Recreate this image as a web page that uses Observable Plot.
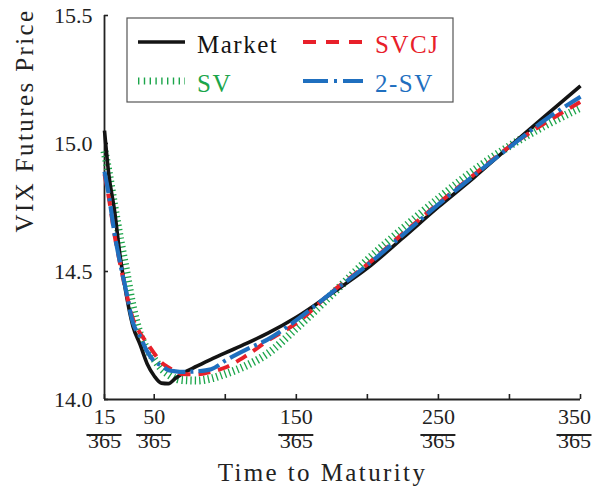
<!DOCTYPE html>
<html><head><meta charset="utf-8">
<script src="https://cdn.jsdelivr.net/npm/d3@7"></script>
<script src="https://cdn.jsdelivr.net/npm/@observablehq/plot@0.6"></script>
<style>html,body{margin:0;padding:0;background:#fff;} #chart{width:593px;height:497px;}</style>
</head><body><div id="chart"></div>
<script>
// Time to maturity in days (x = days/365)
const days   = [15, 18, 22, 26, 30, 35, 40, 45, 50, 55, 60, 65, 70, 80, 90, 100, 115, 130, 150, 175, 200, 225, 250, 275, 300, 325, 350];
const market = [15.05, 14.88, 14.74, 14.56, 14.42, 14.286, 14.215, 14.14, 14.092, 14.064, 14.062, 14.083, 14.102, 14.13, 14.157, 14.182, 14.219, 14.259, 14.321, 14.415, 14.513, 14.631, 14.752, 14.867, 14.988, 15.107, 15.225];
const sv     = [14.97, 14.885, 14.752, 14.627, 14.51, 14.36, 14.255, 14.196, 14.157, 14.121, 14.098, 14.082, 14.076, 14.074, 14.082, 14.10, 14.133, 14.18, 14.278, 14.41, 14.545, 14.668, 14.785, 14.895, 14.99, 15.07, 15.14];
const svcj   = [14.88, 14.79, 14.645, 14.53, 14.425, 14.315, 14.26, 14.22, 14.18, 14.145, 14.125, 14.11, 14.10, 14.098, 14.108, 14.125, 14.172, 14.23, 14.298, 14.42, 14.528, 14.648, 14.766, 14.878, 14.988, 15.08, 15.163];
const twoSv  = [14.89, 14.80, 14.65, 14.533, 14.43, 14.30, 14.247, 14.188, 14.149, 14.133, 14.114, 14.11, 14.108, 14.11, 14.118, 14.152, 14.196, 14.235, 14.31, 14.418, 14.525, 14.643, 14.762, 14.875, 14.985, 15.092, 15.183];

const seriesNames = ["Market", "SVCJ", "SV", "2-SV"];
const xLabelTicks = [15, 50, 150, 250, 350];
const xAllTicks   = [15, 50, 100, 150, 200, 250, 300, 350];
const denominator = "365";
const yTicks      = [14.0, 14.5, 15.0, 15.5];
const xTitle = "Time to Maturity";
const yTitle = "VIX Futures Price";

const FONT = "'Liberation Serif', serif";
const styles = {
  "Market": {color: "#141414", width: 3.6, dash: null},
  "SVCJ":   {color: "#e8202a", width: 4,   dash: "12,8"},
  "SV":     {color: "#1ba54a", width: 8,   dash: "1.3,3.1"},
  "2-SV":   {color: "#1f6fbf", width: 4.2, dash: "22,5,3,5"}
};
const valuesBy = {"Market": market, "SVCJ": svcj, "SV": sv, "2-SV": twoSv};
const drawOrder = ["SV", "Market", "SVCJ", "2-SV"];

const rows = [];
for (const name of seriesNames) days.forEach((d, i) => rows.push({series: name, day: d, value: valuesBy[name][i]}));

const W = 593, H = 497, ML = 104, MR = 13, MT = 15, MB = 98;
const xDomain = [15, 350], yDomain = [14, 15.5];
// pixel <-> data unit ratios, used only to size decorations (ticks, fraction bars)
const pxPerDay = (W - ML - MR) / (xDomain[1] - xDomain[0]);
const pxPerUnit = (H - MT - MB) / (yDomain[1] - yDomain[0]);
const barHalf = 17.5 / pxPerDay;

const lineMarks = drawOrder.map(name => Plot.line(rows.filter(r => r.series === name), {
  x: "day", y: "value", stroke: styles[name].color, strokeWidth: styles[name].width,
  strokeDasharray: styles[name].dash, curve: "monotone-x", strokeLinecap: "butt"
}));

const innerTicks = xLabelTicks.slice(0, -1);
const lastTick = xLabelTicks.slice(-1);
const lastShift = -6;

const plot = Plot.plot({
  width: W, height: H,
  marginLeft: ML, marginRight: MR, marginTop: MT, marginBottom: MB,
  style: {fontFamily: FONT, background: "#fff", color: "#222", overflow: "visible"},
  x: {domain: xDomain, axis: null},
  y: {domain: yDomain, axis: null},
  marks: [
    Plot.ruleX([xDomain[0]], {stroke: "#222", strokeWidth: 1.8}),
    Plot.ruleY([yDomain[0]], {stroke: "#222", strokeWidth: 1.8}),
    // inward tick marks
    Plot.ruleX(xAllTicks, {x: d => d, y1: yDomain[0], y2: yDomain[0] + 5 / pxPerUnit, stroke: "#222", strokeWidth: 1.6}),
    Plot.ruleY(yTicks, {y: d => d, x1: xDomain[0], x2: xDomain[0] + 4 / pxPerDay, stroke: "#222", strokeWidth: 1.6}),
    Plot.axisY(yTicks, {anchor: "left", tickSize: 0, tickPadding: 12, tickFormat: d => d.toFixed(1), fontSize: 22, fill: "#222", label: null}),
    ...lineMarks,
    // fractional tick labels: numerator, bar, denominator
    Plot.text(innerTicks, {x: d => d, frameAnchor: "bottom", dy: 24, text: d => String(d), fontSize: 22, fill: "#222"}),
    Plot.text(innerTicks, {x: d => d, frameAnchor: "bottom", dy: 48, text: () => denominator, fontSize: 22, fill: "#222"}),
    Plot.text(lastTick, {x: d => d, frameAnchor: "bottom", dx: lastShift, dy: 24, text: d => String(d), fontSize: 22, fill: "#222"}),
    Plot.text(lastTick, {x: d => d, frameAnchor: "bottom", dx: lastShift, dy: 48, text: () => denominator, fontSize: 22, fill: "#222"}),
    Plot.ruleY(innerTicks, {y: () => yDomain[0], x1: d => d - barHalf, x2: d => d + barHalf, dy: 35.5, stroke: "#222", strokeWidth: 2}),
    Plot.ruleY(lastTick, {y: () => yDomain[0], x1: d => d - barHalf, x2: d => d + barHalf, dx: lastShift, dy: 35.5, stroke: "#222", strokeWidth: 2}),
    Plot.text([xTitle], {frameAnchor: "bottom", dx: -20, dy: 81, text: d => d, fontSize: 25, fill: "#222"}),
    Plot.text([yTitle], {frameAnchor: "left", rotate: -90, dx: -80, dy: 25, text: d => d, fontSize: 25, fill: "#222"})
  ]
});
document.getElementById("chart").appendChild(plot);

const svg = d3.select(plot);
svg.selectAll("text").filter(function() { return this.textContent === xTitle || this.textContent === yTitle; })
  .style("letter-spacing", "2.4px");

// legend (inside plot area, top-left)
const lg = svg.append("g").attr("text-anchor", "start");
lg.append("rect").attr("x", 127).attr("y", 18).attr("width", 326).attr("height", 84)
  .attr("fill", "#fff").attr("stroke", "#555").attr("stroke-width", 1.2);
const legendPos = {
  "Market": {lx: 138, lw: 47, tx: 197, y: 42},
  "SVCJ":   {lx: 303, lw: 60, tx: 375, y: 42},
  "SV":     {lx: 138, lw: 47, tx: 197, y: 81},
  "2-SV":   {lx: 303, lw: 60, tx: 375, y: 81}
};
for (const name of seriesNames) {
  const p = legendPos[name], s = styles[name];
  const ln = lg.append("line").attr("x1", p.lx).attr("x2", p.lx + p.lw).attr("y1", p.y).attr("y2", p.y)
    .attr("stroke", s.color).attr("stroke-width", name === "SV" ? 7 : s.width);
  if (s.dash) ln.attr("stroke-dasharray", name === "SVCJ" ? "13,10" : name === "2-SV" ? "25,6,3,6" : "1.4,4.4");
  lg.append("text").attr("x", p.tx).attr("y", p.y + 11).attr("text-anchor", "start").text(name)
    .attr("fill", s.color).style("font-family", FONT).style("font-size", "25px").style("letter-spacing", "1.5px");
}
</script>
</body></html>
